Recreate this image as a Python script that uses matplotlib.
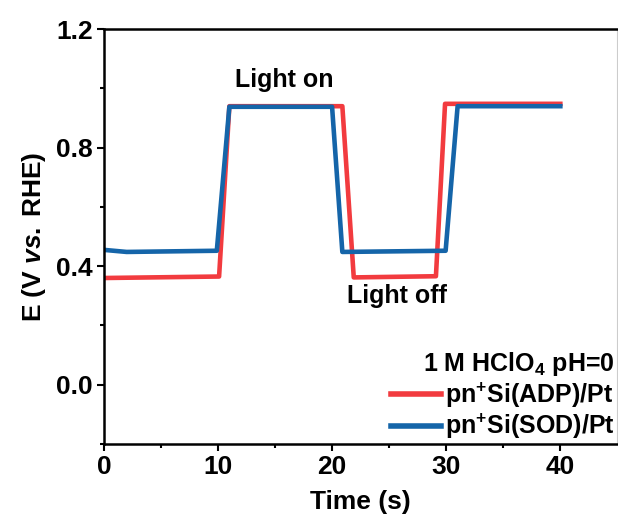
import numpy as np
import matplotlib.pyplot as plt

plt.rcParams['font.family'] = ['Liberation Sans', 'DejaVu Sans']
plt.rcParams['font.weight'] = 'bold'
plt.rcParams['mathtext.fontset'] = 'custom'
plt.rcParams['mathtext.rm'] = 'Liberation Sans:bold'
plt.rcParams['mathtext.it'] = 'Liberation Sans:bold:italic'
plt.rcParams['mathtext.bf'] = 'Liberation Sans:bold'
plt.rcParams['mathtext.default'] = 'rm'

# pn+Si(ADP)/Pt
t_adp = [0, 10.1, 11.0, 20.9, 21.9, 29.1, 29.9, 40]
e_adp = [0.36, 0.365, 0.94, 0.94, 0.362, 0.366, 0.948, 0.948]
# pn+Si(SOD)/Pt
t_sod = [0, 2, 9.9, 11.0, 20.0, 20.9, 29.95, 31.0, 40]
e_sod = [0.455, 0.448, 0.452, 0.938, 0.938, 0.448, 0.452, 0.94, 0.94]

fig = plt.figure(figsize=(6.18, 5.21), dpi=100)
ax = fig.add_axes([0.168, 0.148, 0.831, 0.796])

ax.plot(t_adp, e_adp, color='#F23B3F', lw=3.3, label=r'pn$^{+}$Si(ADP)/Pt')
ax.plot(t_sod, e_sod, color='#1565A9', lw=3.3, label=r'pn$^{+}$Si(SOD)/Pt')

ax.set_xlim(0, 45)
ax.set_ylim(-0.2, 1.2)
ax.set_xticks([0, 10, 20, 30, 40])
ax.set_xticks([5, 15, 25, 35], minor=True)
ax.set_yticks([0.0, 0.4, 0.8, 1.2])
ax.set_yticks([-0.2, 0.2, 0.6, 1.0], minor=True)
ax.yaxis.set_major_formatter(plt.FormatStrFormatter('%.1f'))
ax.tick_params(which='major', length=5, width=1.5, labelsize=19, pad=3)
ax.tick_params(which='minor', length=3, width=1.5)
for s in ['left', 'bottom', 'top']:
    ax.spines[s].set_linewidth(1.8)
ax.spines['right'].set_color('#cccccc')
ax.spines['right'].set_linewidth(0.8)

ax.set_xlabel('Time (s)', fontsize=19, fontweight='bold', labelpad=8)
ax.set_ylabel(r'E (V $\mathit{vs.}\:$RHE)', fontsize=19, fontweight='bold', labelpad=6)

ax.text(15.8, 1.03, 'Light on', fontsize=18, fontweight='bold', ha='center', va='center')
ax.text(25.7, 0.30, 'Light off', fontsize=18, fontweight='bold', ha='center', va='center')

leg = ax.legend(loc='lower right', frameon=False, fontsize=18, title=r'1 M HClO$_{4}$ pH=0',
                title_fontsize=18, alignment='right', handlelength=2.0, handletextpad=0.15,
                borderaxespad=0.0, labelspacing=0.1, borderpad=0.1)
leg.get_title().set_fontweight('bold')
for h in leg.get_lines():
    h.set_linewidth(4)

fig.savefig('out.png', dpi=100)
